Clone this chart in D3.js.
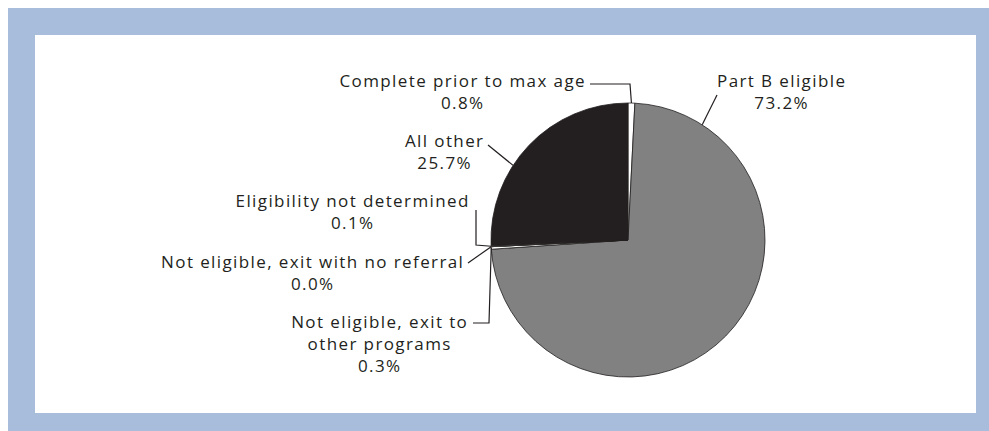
<!DOCTYPE html>
<html><head><meta charset="utf-8">
<script src="https://cdn.jsdelivr.net/npm/d3@7"></script>
<style>body{margin:0;background:#fff}svg{display:block}</style>
</head><body>
<svg id="c" width="989" height="431"></svg>
<script>
const categories = ["Complete prior to max age","Part B eligible","Not eligible, exit to other programs","Not eligible, exit with no referral","Eligibility not determined","All other"];
const values = [0.8, 73.2, 0.3, 0.0, 0.1, 25.7];
const colors = ["#ffffff","#818182","#ffffff","#ffffff","#ffffff","#231f20"];
// label lines (text) per category
const labelLines = [
  ["Complete prior to max age","0.8%"],
  ["Part B eligible","73.2%"],
  ["Not eligible, exit to","other programs","0.3%"],
  ["Not eligible, exit with no referral","0.0%"],
  ["Eligibility not determined","0.1%"],
  ["All other","25.7%"]
];
// layout: label center x, first baseline y, leader: start point, knee(s), edge angle (deg, null = slice mid)
const layout = [
  {cx:462, y:87, start:[590,84], knees:[[630,84]], edgeAngle:null},
  {cx:781, y:87, start:[717,95], knees:[], edgeAngle:32.8},
  {cx:379, y:328, start:[473,323], knees:[[489,323]], edgeAngle:null},
  {cx:312, y:268, start:[468,263], knees:[], edgeAngle:null},
  {cx:352, y:207, start:[476,210], knees:[[476,245]], edgeAngle:null},
  {cx:444, y:147, start:[488,145], knees:[], edgeAngle:303}
];
const W=989,H=431, cx=628, cy=240, R=137, lh=22, ls=1.4;
const svg=d3.select("#c");
svg.append("rect").attr("x",8).attr("y",8).attr("width",W-8).attr("height",H-8).attr("fill","#a8bcdc");
svg.append("rect").attr("x",35).attr("y",35).attr("width",941).attr("height",378).attr("fill","#ffffff");
const pie=d3.pie().sort(null).value(d=>d).startAngle(0).endAngle(2*Math.PI);
const arcs=pie(values);
const arc=d3.arc().innerRadius(0).outerRadius(R);
const g=svg.append("g").attr("transform",`translate(${cx},${cy})`);
g.selectAll("path.s").data(arcs).join("path").attr("class","s")
 .attr("d",arc).attr("fill",(d,i)=>colors[i])
 .attr("stroke","#231f20").attr("stroke-width",0.8).attr("stroke-linejoin","round");
// labels
const tg=svg.append("g").attr("font-family","'Open Sans', sans-serif").attr("font-size",17)
  .attr("letter-spacing",ls).attr("fill","#231f20");
labelLines.forEach((lines,i)=>{
  const L=layout[i];
  const t=tg.append("text").attr("text-anchor","middle");
  lines.forEach((s,j)=>t.append("tspan").attr("x",L.cx+ls/2).attr("y",L.y+j*lh).text(s));
  const a=L.edgeAngle!=null? L.edgeAngle*Math.PI/180 : (arcs[i].startAngle+arcs[i].endAngle)/2;
  const ep=[cx+R*Math.sin(a), cy-R*Math.cos(a)];
  const pts=[L.start,...L.knees,ep];
  svg.append("path").attr("d",d3.line()(pts)).attr("fill","none").attr("stroke","#231f20").attr("stroke-width",1.2);
});
</script>
</body></html>
